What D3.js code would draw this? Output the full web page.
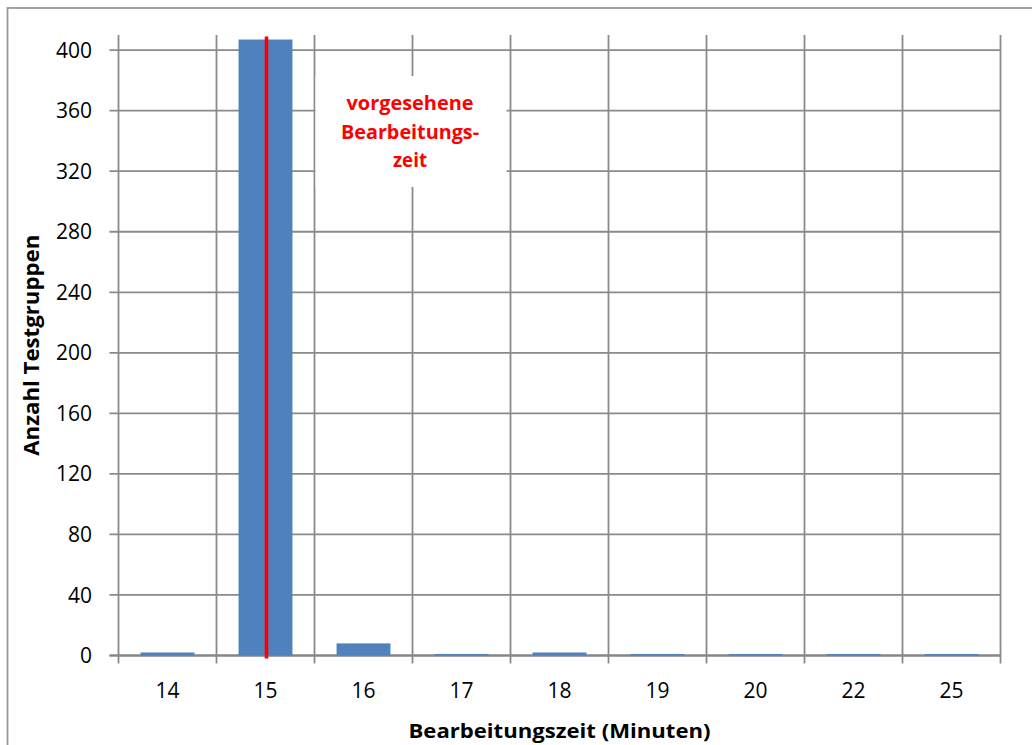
<!DOCTYPE html>
<html><head><meta charset="utf-8">
<script src="https://cdn.jsdelivr.net/npm/d3@7"></script>
<style>
html,body{margin:0;padding:0;background:#fff;}
svg{display:block;}
text{font-family:"Open Sans",Lato,sans-serif;}
</style></head>
<body>
<script>
const categories = ["14","15","16","17","18","19","20","22","25"];
const counts = [2, 407, 8, 1, 2, 1, 1, 1, 1];
const yTicks = [0, 40, 80, 120, 160, 200, 240, 280, 320, 360, 400];
const yMax = 410;
const markerCategory = "15";
const markerTop = 409;
const annotationLines = ["vorgesehene", "Bearbeitungs-", "zeit"];
const annotationWidths = [127, 138, 34];
const xTitle = "Bearbeitungszeit (Minuten)";
const yTitle = "Anzahl Testgruppen";

const W = 1032, H = 745;
const M = {left: 118.5, right: 1000.5, top: 35, bottom: 655.5};
const grid = "#8a8a8a";

const svg = d3.select("body").append("svg").attr("width", W).attr("height", H);

// outer border
svg.append("rect").attr("x", 7.5).attr("y", 8).attr("width", W + 20).attr("height", H + 20)
  .attr("fill", "none").attr("stroke", "#9a9a9a").attr("stroke-width", 1.8);

const x = d3.scaleBand().domain(categories).range([M.left, M.right]).paddingInner(0.45).paddingOuter(0.225);
const xb = d3.scaleBand().domain(categories).range([M.left, M.right]).padding(0);
const y = d3.scaleLinear().domain([0, yMax]).range([M.bottom, M.top]);

// horizontal gridlines
svg.append("g").selectAll("line").data(yTicks).join("line")
  .attr("x1", M.left - 9).attr("x2", M.right)
  .attr("y1", d => y(d)).attr("y2", d => y(d))
  .attr("stroke", grid).attr("stroke-width", 1.8);

// vertical gridlines / ticks at category boundaries
const bounds = categories.map(c => xb(c)).concat([xb(categories[categories.length-1]) + xb.bandwidth()]);
svg.append("g").selectAll("line").data(bounds).join("line")
  .attr("x1", d => d).attr("x2", d => d)
  .attr("y1", M.top).attr("y2", M.bottom + 8)
  .attr("stroke", grid).attr("stroke-width", 1.8);

// zero axis line slightly heavier
svg.append("line").attr("x1", M.left - 9).attr("x2", M.right)
  .attr("y1", y(0)).attr("y2", y(0)).attr("stroke", "#868686").attr("stroke-width", 2.2);

// annotation box (white, covers gridlines)
const bx = xb("16") + 1, bw = 191;
svg.append("rect").attr("x", bx).attr("y", 76).attr("width", bw).attr("height", 111).attr("fill", "#fff");

// bars
svg.append("g").selectAll("rect").data(categories).join("rect")
  .attr("x", d => x(d)).attr("width", x.bandwidth())
  .attr("y", (d,i) => y(counts[i])).attr("height", (d,i) => y(0) - y(counts[i]))
  .attr("fill", "#4f81bd");

// red marker line
const mx = x(markerCategory) + x.bandwidth()/2 + 1;
svg.append("line").attr("x1", mx).attr("x2", mx).attr("y1", y(markerTop)).attr("y2", y(0) + 3)
  .attr("stroke", "#ff0000").attr("stroke-width", 3.6);

// annotation text
annotationLines.forEach((l, i) => {
  svg.append("text").attr("text-anchor", "middle").attr("fill", "#ff0000")
    .attr("font-weight", "bold").attr("font-size", 19.5)
    .attr("x", bx + bw/2 - 1).attr("y", 110 + i*28.5)
    .attr("textLength", annotationWidths[i]).attr("lengthAdjust", "spacingAndGlyphs")
    .text(l);
});

// y tick labels
svg.append("g").selectAll("text").data(yTicks).join("text")
  .attr("x", 92).attr("y", d => y(d)).attr("dy", "0.36em")
  .attr("text-anchor", "end").attr("font-size", 21).attr("fill", "#000").text(d => d);

// x tick labels
svg.append("g").selectAll("text").data(categories).join("text")
  .attr("x", d => xb(d) + xb.bandwidth()/2).attr("y", 698)
  .attr("text-anchor", "middle").attr("font-size", 21).attr("fill", "#000").text(d => d);

// axis titles
svg.append("text").attr("x", (M.left + M.right)/2).attr("y", 737.5)
  .attr("text-anchor", "middle").attr("font-weight", "bold").attr("font-size", 20)
  .attr("textLength", 302).attr("lengthAdjust", "spacingAndGlyphs").text(xTitle);

svg.append("text").attr("transform", `translate(38.5,${(M.top + M.bottom)/2}) rotate(-90)`)
  .attr("text-anchor", "middle").attr("font-weight", "bold").attr("font-size", 20.5)
  .attr("textLength", 221).attr("lengthAdjust", "spacingAndGlyphs").text(yTitle);
</script>
</body></html>
